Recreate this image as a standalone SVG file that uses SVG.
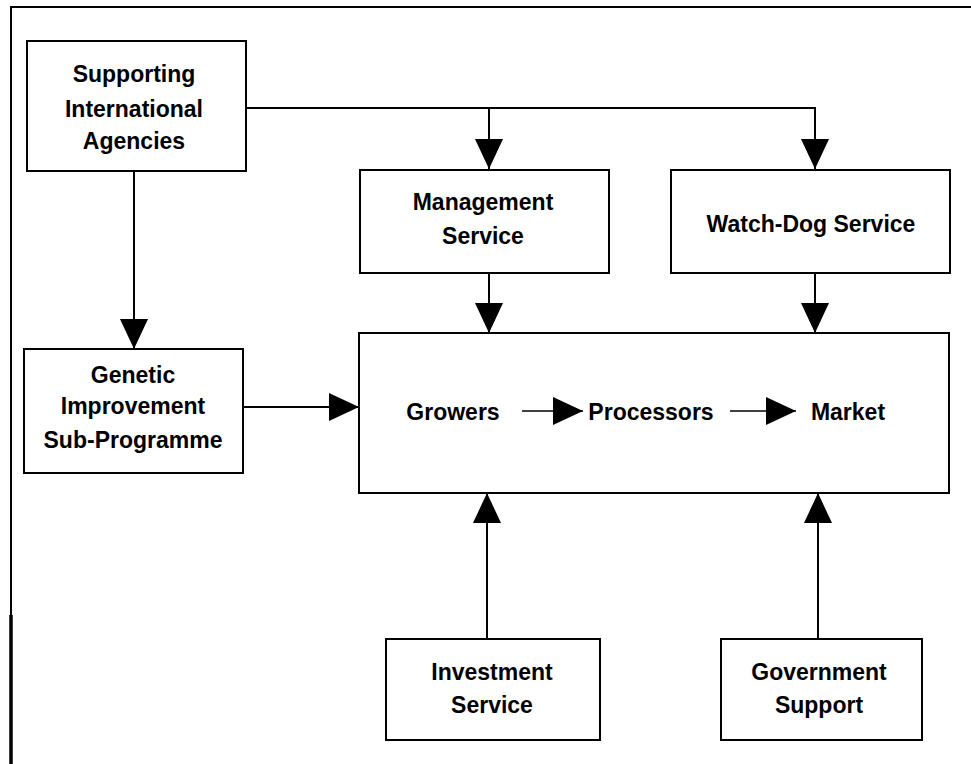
<svg xmlns="http://www.w3.org/2000/svg" width="971" height="764" viewBox="0 0 971 764">
<style>
.box{fill:#fff;stroke:#000;stroke-width:2}
.lbl{font-family:"Liberation Sans",Arial,sans-serif;font-weight:bold;font-size:23px;fill:#000;text-anchor:middle}
.con{fill:none;stroke:#000;stroke-width:2}
.thin{fill:none;stroke:#000;stroke-width:1.5}
.frame{fill:none;stroke:#000;stroke-width:2}
</style>
<defs>
<marker id="ah" markerUnits="userSpaceOnUse" markerWidth="30" markerHeight="28" refX="30" refY="14" orient="auto" viewBox="0 0 30 28">
<path d="M0,0 L30,14 L0,28 z" fill="#000"/>
</marker>
</defs>
<rect width="971" height="764" fill="#fff"/>
<g id="frame">
<path class="frame" d="M971,7 H11 V764"/>
<path d="M11,615 V764" stroke="#000" stroke-width="3.5" fill="none"/>
</g>
<g id="supporting">
<rect class="box" x="27" y="41" width="219" height="130"/>
<text class="lbl" x="134" y="82">Supporting</text>
<text class="lbl" x="134" y="117">International</text>
<text class="lbl" x="134" y="149">Agencies</text>
</g>
<g id="management">
<rect class="box" x="360" y="170" width="249" height="103"/>
<text class="lbl" x="483" y="210">Management</text>
<text class="lbl" x="483" y="244">Service</text>
</g>
<g id="watchdog">
<rect class="box" x="671" y="170" width="279" height="103"/>
<text class="lbl" x="811" y="232">Watch-Dog Service</text>
</g>
<g id="genetic">
<rect class="box" x="24" y="349" width="219" height="124"/>
<text class="lbl" x="133" y="383">Genetic</text>
<text class="lbl" x="133" y="414">Improvement</text>
<text class="lbl" x="133" y="448">Sub-Programme</text>
</g>
<g id="central">
<rect class="box" x="359" y="333" width="590" height="160"/>
<text class="lbl" x="453" y="420">Growers</text>
<text class="lbl" x="651" y="420">Processors</text>
<text class="lbl" x="848" y="420">Market</text>
</g>
<g id="investment">
<rect class="box" x="386" y="639" width="214" height="101"/>
<text class="lbl" x="492" y="680">Investment</text>
<text class="lbl" x="492" y="713">Service</text>
</g>
<g id="government">
<rect class="box" x="721" y="639" width="201" height="101"/>
<text class="lbl" x="819" y="680">Government</text>
<text class="lbl" x="819" y="713">Support</text>
</g>
<g id="connectors">
<path class="con" d="M246,108 H815 V169" marker-end="url(#ah)"/>
<path class="con" d="M489,108 V169" marker-end="url(#ah)"/>
<path class="con" d="M134,171 V349" marker-end="url(#ah)"/>
<path class="con" d="M243,407 H359" marker-end="url(#ah)"/>
<path class="con" d="M489,273 V333" marker-end="url(#ah)"/>
<path class="con" d="M815,273 V333" stroke-width="3" marker-end="url(#ah)"/>
<path class="con" d="M487,639 V493" marker-end="url(#ah)"/>
<path class="con" d="M818,639 V493" stroke-width="3" marker-end="url(#ah)"/>
<path class="thin" d="M522,411 H583" marker-end="url(#ah)"/>
<path class="thin" d="M730,411 H796" marker-end="url(#ah)"/>
</g>
</svg>
